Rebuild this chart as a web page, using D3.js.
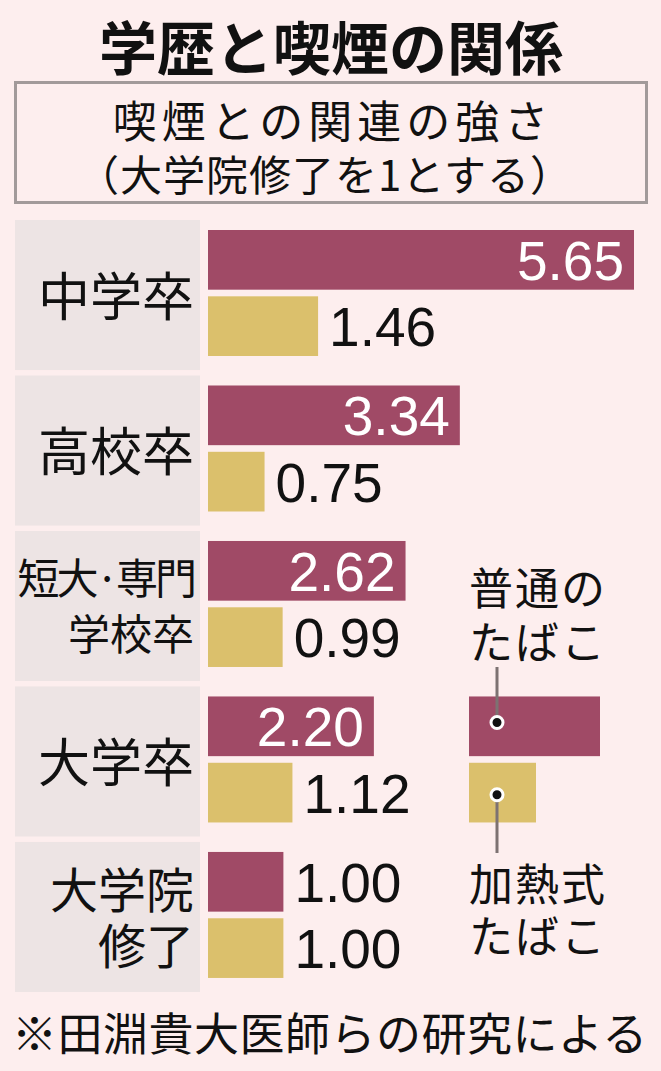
<!DOCTYPE html>
<html>
<head>
<meta charset="utf-8">
<script src="https://cdn.jsdelivr.net/npm/d3@7"></script>
<style>
  html, body { margin: 0; padding: 0; background: #fdeeee; }
  svg { display: block; }
</style>
</head>
<body>
<div id="chart"></div>
<script>
// DATA
var categories = ["中学卒", "高校卒", "短大・専門学校卒", "大学卒", "大学院修了"];
var categoryLines = [["中学卒"], ["高校卒"], ["短大·専門", "学校卒"], ["大学卒"], ["大学院", "修了"]];
var seriesNames = ["普通のたばこ", "加熱式たばこ"];
var regularValues = [5.65, 3.34, 2.62, 2.20, 1.00];
var heatedValues = [1.46, 0.75, 0.99, 1.12, 1.00];
var legendRegular = ["普通の", "たばこ"];
var legendHeated = ["加熱式", "たばこ"];

var W = 661, H = 1071;
var colors = { "普通のたばこ": "#a04a66", "加熱式たばこ": "#dbc06c" };
var jp = "'Noto Sans CJK JP', sans-serif";
var num = "'Liberation Sans', Arial, sans-serif";

var svg = d3.select("#chart").append("svg")
  .attr("width", W)
  .attr("height", H)
  .attr("viewBox", "0 0 " + W + " " + H);

svg.append("rect").attr("width", W).attr("height", H).attr("fill", "#fdeeee");

// TITLE
svg.append("text")
  .attr("x", 331).attr("y", 45)
  .attr("text-anchor", "middle")
  .attr("dominant-baseline", "central")
  .style("font-family", jp).style("font-weight", 700).style("font-size", "58px")
  .attr("fill", "#111")
  .text("学歴と喫煙の関係");

// SUBTITLE BOX
svg.append("rect")
  .attr("x", 15.5).attr("y", 82.5).attr("width", 631).attr("height", 120)
  .attr("fill", "none").attr("stroke", "#a29a9a").attr("stroke-width", 3);

svg.append("text")
  .attr("x", 333).attr("y", 119)
  .attr("text-anchor", "middle").attr("dominant-baseline", "central")
  .style("font-family", jp).style("font-size", "44px").style("letter-spacing", "5px")
  .attr("fill", "#111")
  .text("喫煙との関連の強さ");

svg.append("text")
  .attr("x", 325).attr("y", 172)
  .attr("text-anchor", "middle").attr("dominant-baseline", "central")
  .style("font-family", jp).style("font-size", "42px").style("letter-spacing", "1px")
  .attr("fill", "#111")
  .text("（大学院修了を1とする）");

// SCALES
var yBand = d3.scaleBand()
  .domain(categories)
  .range([220, 992])
  .paddingInner(0.035);

var ySeries = d3.scaleBand()
  .domain(seriesNames)
  .range([10, 136])
  .paddingInner(0.1);

var xScale = d3.scaleLinear()
  .domain([0, 5.65])
  .range([208, 634]);

var fmt = d3.format(".2f");

var rows = categories.map(function(c, i) {
  return { cat: c, lines: categoryLines[i], values: [regularValues[i], heatedValues[i]] };
});

// PANELS (gray label backgrounds)
svg.selectAll("rect.panel")
  .data(rows)
  .enter().append("rect")
  .attr("class", "panel")
  .attr("x", 15).attr("width", 185)
  .attr("y", function(d) { return yBand(d.cat); })
  .attr("height", yBand.bandwidth())
  .attr("fill", "#ede4e4");

// CATEGORY LABELS
var groups = svg.selectAll("g.row")
  .data(rows)
  .enter().append("g")
  .attr("class", "row")
  .attr("transform", function(d) { return "translate(0," + yBand(d.cat) + ")"; });

groups.each(function(d) {
  var g = d3.select(this);
  var center = (ySeries.range()[0] + ySeries.range()[1]) / 2;
  var two = d.lines.length > 1;
  var size = d.lines[0].length > 3 ? 42 : (two ? 48 : 52);
  var gap = two ? 28 : 0;
  d.lines.forEach(function(line, k) {
    g.append("text")
      .attr("x", 194)
      .attr("y", center + (two ? (k === 0 ? -gap : gap) : 0))
      .attr("text-anchor", "end")
      .attr("dominant-baseline", "central")
      .style("font-family", jp).style("font-size", size + "px")
      .style("letter-spacing", line.indexOf("·") >= 0 ? "-3px" : null)
      .attr("fill", "#111")
      .text(line);
  });
});

// BARS
groups.each(function(d) {
  var g = d3.select(this);
  seriesNames.forEach(function(s, k) {
    var v = d.values[k];
    var y0 = ySeries(s);
    var bw = xScale(v) - xScale(0);
    g.append("rect")
      .attr("x", xScale(0))
      .attr("y", y0)
      .attr("width", bw)
      .attr("height", ySeries.bandwidth())
      .attr("fill", colors[s]);

    var inside = bw > 140;
    g.append("text")
      .attr("x", inside ? xScale(v) - 10 : xScale(v) + 11)
      .attr("y", y0 + ySeries.bandwidth() / 2 + 20)
      .attr("text-anchor", inside ? "end" : "start")
      .style("font-family", num).style("font-size", "55px")
      .attr("fill", inside ? "#fff" : "#111")
      .text(fmt(v));
  });
});

// LEGEND (next to 大学卒 row)
var legRow = yBand(categories[3]);
var legX = 469;

svg.append("rect")
  .attr("x", legX).attr("y", legRow + ySeries(seriesNames[0]))
  .attr("width", 131).attr("height", ySeries.bandwidth())
  .attr("fill", colors[seriesNames[0]]);

svg.append("rect")
  .attr("x", legX).attr("y", legRow + ySeries(seriesNames[1]))
  .attr("width", 67).attr("height", ySeries.bandwidth())
  .attr("fill", colors[seriesNames[1]]);

var dot1 = legRow + ySeries(seriesNames[0]) + 26;
var dot2 = legRow + ySeries(seriesNames[1]) + 32;

svg.append("line")
  .attr("x1", 497).attr("x2", 497).attr("y1", 667).attr("y2", dot1)
  .attr("stroke", "#7d7272").attr("stroke-width", 3);
svg.append("line")
  .attr("x1", 497).attr("x2", 497).attr("y1", dot2).attr("y2", 853)
  .attr("stroke", "#7d7272").attr("stroke-width", 3);

[dot1, dot2].forEach(function(cy) {
  svg.append("circle")
    .attr("cx", 497).attr("cy", cy).attr("r", 6)
    .attr("fill", "#111").attr("stroke", "#fff").attr("stroke-width", 3);
});

legendRegular.forEach(function(t, k) {
  svg.append("text")
    .attr("x", 469).attr("y", 586 + k * 54)
    .attr("dominant-baseline", "central")
    .style("font-family", jp).style("font-size", "44px").style("letter-spacing", "2px")
    .attr("fill", "#111")
    .text(t);
});

legendHeated.forEach(function(t, k) {
  svg.append("text")
    .attr("x", 469).attr("y", 882 + k * 52)
    .attr("dominant-baseline", "central")
    .style("font-family", jp).style("font-size", "44px").style("letter-spacing", "2px")
    .attr("fill", "#111")
    .text(t);
});

// FOOTNOTE
svg.append("text")
  .attr("x", 12).attr("y", 1031)
  .attr("dominant-baseline", "central")
  .style("font-family", jp).style("font-size", "45px").style("letter-spacing", "0.5px")
  .attr("fill", "#111")
  .text("※田淵貴大医師らの研究による");
</script>
</body>
</html>
